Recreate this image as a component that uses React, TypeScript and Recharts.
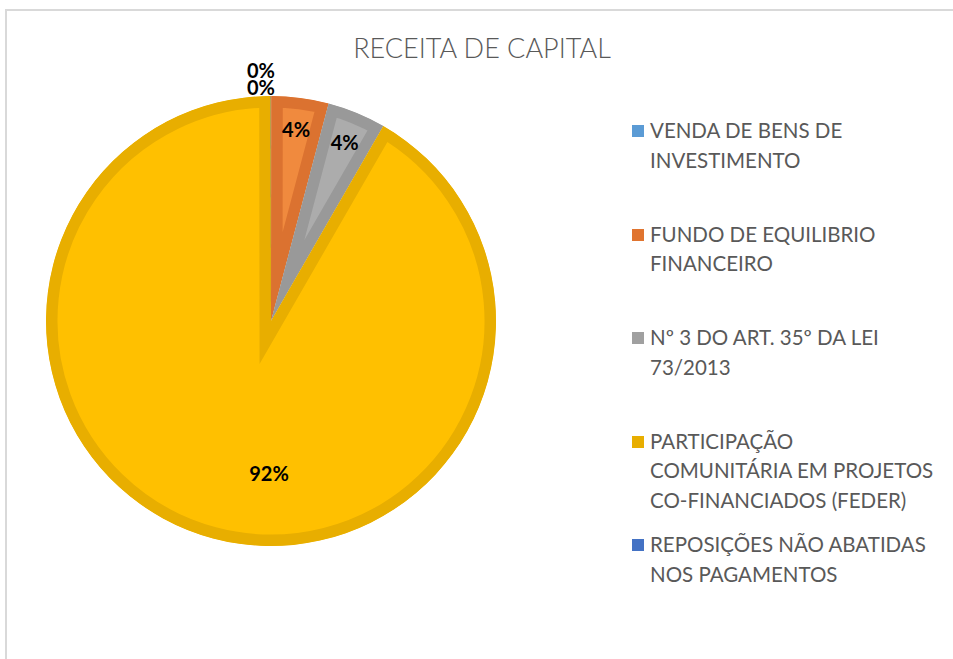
import { PieChart, Pie, Cell, Sector, Legend } from "recharts";

// line breaks follow the wrapping of the original legend
const CATEGORIES = [
  "VENDA DE BENS DE\nINVESTIMENTO",
  "FUNDO DE EQUILIBRIO\nFINANCEIRO",
  "Nº 3 DO ART. 35º DA LEI\n73/2013",
  "PARTICIPAÇÃO\nCOMUNITÁRIA EM PROJETOS\nCO-FINANCIADOS (FEDER)",
  "REPOSIÇÕES NÃO ABATIDAS\nNOS PAGAMENTOS",
];
// percentage shares
const VALUES = [0.02, 4.1, 4.2, 91.66, 0.02];
const FILLS = ["#5B9BD5", "#F08A3E", "#ACACAC", "#FFC000", "#4472C4"];
const BORDERS = ["#5089C0", "#DB7230", "#999999", "#E8AE00", "#3D66B0"];
const MARKERS = ["#5B9BD5", "#E0742F", "#A0A0A0", "#E8AE00", "#4472C4"];

const chartData = CATEGORIES.map((name, i) => ({ name, value: VALUES[i] }));

const FONT = "Lato, 'Open Sans', sans-serif";

// sector with its border drawn on the inside (stroke clipped to the sector)
function SliceShape(props: any) {
  const { cx, cy, innerRadius, outerRadius, startAngle, endAngle, fill, stroke } = props;
  const id = `clip-${Math.round(startAngle * 1000)}-${Math.round(endAngle * 1000)}`;
  const geo = { cx, cy, innerRadius, outerRadius, startAngle, endAngle };
  return (
    <g>
      <defs>
        <clipPath id={id}>
          <Sector {...geo} />
        </clipPath>
      </defs>
      <Sector {...geo} fill={fill} stroke={stroke} strokeWidth={23} clipPath={`url(#${id})`} />
    </g>
  );
}

function renderLabel(props: any) {
  const { cx, cy, midAngle, outerRadius, percent, index } = props;
  const RAD = Math.PI / 180;
  let x: number;
  let y: number;
  if (percent < 0.005) {
    // tiny slices: Excel stacks them above the top of the pie
    x = cx - 10;
    y = cy - outerRadius - (index === 0 ? 26 : 9);
  } else if (percent > 0.5) {
    x = cx - 2;
    y = cy + outerRadius * 0.675;
  } else {
    const r = outerRadius * 0.86;
    x = cx + r * Math.cos(-midAngle * RAD);
    y = cy + r * Math.sin(-midAngle * RAD);
  }
  return (
    <text
      x={x}
      y={y}
      textAnchor="middle"
      dominantBaseline="central"
      fill="#000"
      style={{ fontFamily: FONT, fontWeight: 700, fontSize: 20 }}
    >
      {`${Math.round(percent * 100)}%`}
    </text>
  );
}

function renderLegend() {
  return (
    <div style={{ fontFamily: FONT, fontSize: 20.5, color: "#595959", lineHeight: "29.5px" }}>
      {CATEGORIES.map((name, i) => (
        <div key={name} style={{ display: "flex", height: 103.5 }}>
          <div
            style={{
              width: 12,
              height: 12,
              background: MARKERS[i],
              marginTop: 9,
              marginRight: 6,
              flexShrink: 0,
            }}
          />
          <div style={{ whiteSpace: "pre-line" }}>{name}</div>
        </div>
      ))}
    </div>
  );
}

export default function App() {
  return (
    <div
      style={{
        position: "absolute",
        left: 0,
        top: 0,
        width: 953,
        height: 659,
        overflow: "hidden",
        background: "#fff",
      }}
    >
      <div
        style={{
          position: "absolute",
          left: 5,
          top: 9,
          width: 970,
          height: 680,
          border: "2px solid #D9D9D9",
          boxSizing: "border-box",
        }}
      />
      <div
        style={{
          position: "absolute",
          left: 0,
          top: 30,
          width: 964,
          textAlign: "center",
          fontFamily: FONT,
          fontWeight: 300,
          fontSize: 27,
          color: "#595959",
          lineHeight: "36px",
        }}
      >
        RECEITA DE CAPITAL
      </div>
      <div style={{ position: "absolute", left: 0, top: 0 }}>
        <PieChart width={953} height={659} margin={{ top: 0, right: 0, bottom: 0, left: 0 }}>
          <Pie
            data={chartData}
            dataKey="value"
            nameKey="name"
            cx={271}
            cy={321}
            outerRadius={225}
            startAngle={90}
            endAngle={-270}
            label={renderLabel}
            labelLine={false}
            shape={SliceShape}
            isAnimationActive={false}
          >
            {chartData.map((d, i) => (
              <Cell key={d.name} fill={FILLS[i]} stroke={BORDERS[i]} />
            ))}
          </Pie>
          <Legend
            content={renderLegend}
            layout="vertical"
            wrapperStyle={{ left: 632, top: 116, width: 320 }}
          />
        </PieChart>
      </div>
    </div>
  );
}
